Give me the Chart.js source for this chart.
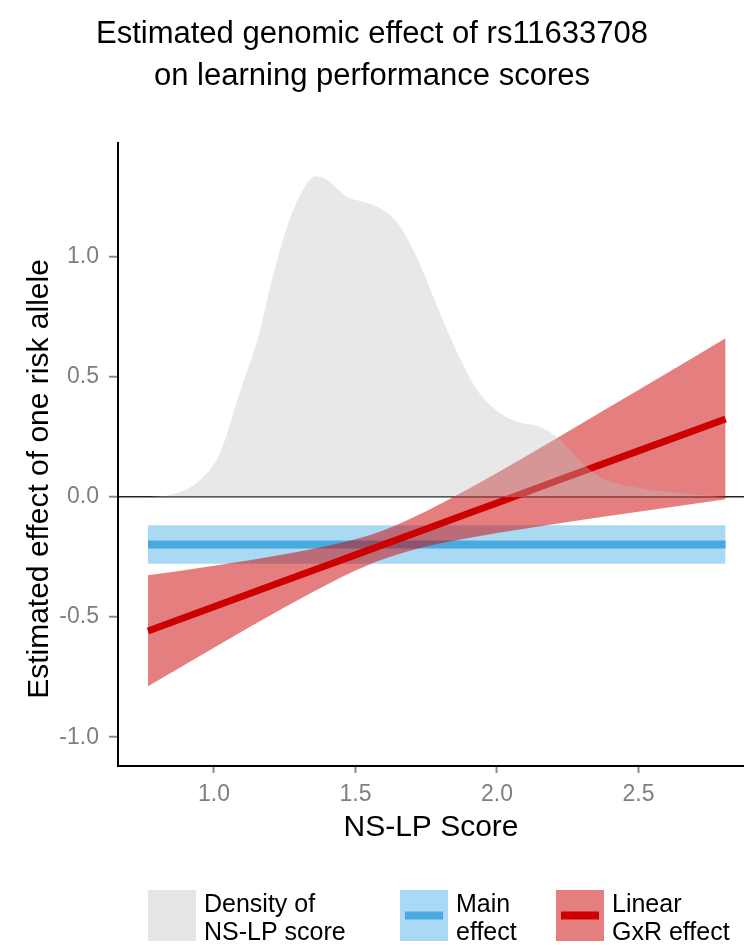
<!DOCTYPE html>
<html>
<head>
<meta charset="utf-8">
<title>rs11633708</title>
<script src="https://cdn.jsdelivr.net/npm/chart.js@4.4.1/dist/chart.umd.min.js"></script>
<style>
	html, body { margin: 0; padding: 0; background: #ffffff; }
	#wrap { width: 744px; height: 945px; }
</style>
</head>
<body>
<div id="wrap"><canvas id="gxrChart" width="744" height="945"></canvas></div>
<script>

// density of NS-LP score (grey area)
var densX = [0.77, 0.85, 0.95, 1.02, 1.09, 1.16, 1.20, 1.26, 1.32, 1.36, 1.40, 1.47, 1.54, 1.59, 1.65, 1.72, 1.79, 1.86, 1.93, 2.01, 2.08, 2.15, 2.22, 2.29, 2.36, 2.50, 2.64, 2.81];
var densY = [0.0, 0.01, 0.07, 0.18, 0.43, 0.68, 0.88, 1.13, 1.29, 1.335, 1.32, 1.25, 1.225, 1.20, 1.14, 0.99, 0.79, 0.60, 0.445, 0.35, 0.31, 0.293, 0.24, 0.155, 0.085, 0.037, 0.017, 0.0];

// main effect (blue)
var mainX  = [0.767, 2.808];
var mainFit = [-0.198, -0.198];
var mainHi = [-0.118, -0.118];
var mainLo = [-0.278, -0.278];

// linear GxR effect (red)
var gxrX   = [0.767, 1.0, 1.25, 1.4, 1.5, 1.6, 1.75, 1.9, 2.0, 2.25, 2.5, 2.808];
var gxrFit = [-0.558, -0.457, -0.349, -0.284, -0.241, -0.198, -0.133, -0.068, -0.025, 0.084, 0.192, 0.325];
var gxrHi  = [-0.326, -0.286, -0.238, -0.204, -0.176, -0.138, -0.059, 0.034, 0.100, 0.272, 0.445, 0.661];
var gxrLo  = [-0.788, -0.628, -0.459, -0.364, -0.306, -0.258, -0.206, -0.171, -0.150, -0.104, -0.061, -0.009];

var xTicks = [1.0, 1.5, 2.0, 2.5];
var yTicks = [-1.0, -0.5, 0.0, 0.5, 1.0];

var yTitle = "Estimated effect of one risk allele";

var legendItems = [
	{ lines: ["Density of", "NS-LP score"], fill: "#E5E5E5", stroke: null },
	{ lines: ["Main", "effect"], fill: "rgba(86, 180, 233, 0.5)", stroke: "#4AAADF" },
	{ lines: ["Linear", "GxR effect"], fill: "rgba(204, 0, 0, 0.5)", stroke: "#CC0000" }
];

var FONT = "'Liberation Sans', Arial, sans-serif";

function pts(xs, ys){
	return xs.map(function(x, i){ return { x: x, y: ys[i] }; });
}

// y title (rotated) and the legend under the plot, with two-line labels
var extraText = {
	id: 'extraText',
	afterDraw: function(chart){
		var ctx = chart.ctx;
		ctx.save();

		ctx.translate(40, 479);
		ctx.rotate(-Math.PI / 2);
		ctx.fillStyle = "#000000";
		ctx.font = "30px " + FONT;
		ctx.textAlign = "center";
		ctx.textBaseline = "middle";
		ctx.fillText(yTitle, 0, 0);
		ctx.setTransform(1, 0, 0, 1, 0, 0);

		var keyX = [148, 400, 556];
		var top = 890, w = 48, h = 51;
		legendItems.forEach(function(item, i){
			var x = keyX[i];
			ctx.fillStyle = item.fill;
			ctx.fillRect(x, top, w, h);
			if (item.stroke){
				ctx.fillStyle = item.stroke;
				ctx.fillRect(x + 5, top + h / 2 - 4, w - 10, 8);
			}
			ctx.fillStyle = "#000000";
			ctx.font = "25px " + FONT;
			ctx.textBaseline = "alphabetic";
			ctx.textAlign = "left";
			ctx.fillText(item.lines[0], x + 56, top + 22);
			ctx.fillText(item.lines[1], x + 56, top + 50);
		});
		ctx.restore();
	}
};

function init_chart_gxr(){

	if( typeof (Chart) === 'undefined'){ return; }

	var chart_settings = {
		type: 'line',
		data: {
			datasets: [
				{
					label: "Density of NS-LP score",
					data: pts(densX, densY),
					borderWidth: 0,
					pointRadius: 0,
					cubicInterpolationMode: 'monotone',
					backgroundColor: "rgba(190, 190, 190, 0.36)",
					fill: 'origin'
				},
				{
					label: "GxR fit",
					data: pts(gxrX, gxrFit),
					borderColor: "#CC0000",
					borderWidth: 7,
					pointRadius: 0,
					fill: false
				},
				{
					label: "GxR upper",
					data: pts(gxrX, gxrHi),
					borderWidth: 0,
					pointRadius: 0,
					cubicInterpolationMode: 'monotone',
					backgroundColor: "rgba(204, 0, 0, 0.5)",
					fill: 3
				},
				{
					label: "GxR lower",
					data: pts(gxrX, gxrLo),
					borderWidth: 0,
					pointRadius: 0,
					cubicInterpolationMode: 'monotone',
					fill: false
				},
				{
					label: "Main fit",
					data: pts(mainX, mainFit),
					borderColor: "#4AAADF",
					borderWidth: 8,
					pointRadius: 0,
					fill: false
				},
				{
					label: "Main upper",
					data: pts(mainX, mainHi),
					borderWidth: 0,
					pointRadius: 0,
					backgroundColor: "rgba(86, 180, 233, 0.5)",
					fill: 6
				},
				{
					label: "Main lower",
					data: pts(mainX, mainLo),
					borderWidth: 0,
					pointRadius: 0,
					fill: false
				}
			]
		},
		options: {
			responsive: false,
			animation: false,
			events: [],
			layout: { padding: { top: 0, right: 0, bottom: 99, left: 0 } },
			plugins: {
				legend: { display: false },
				tooltip: { enabled: false },
				title: {
					display: true,
					text: ["Estimated genomic effect of rs11633708", "on learning performance scores"],
					color: "#000000",
					font: { family: FONT, size: 31, weight: 'normal', lineHeight: 1.35 },
					padding: { top: 14, bottom: 45 }
				}
			},
			scales: {
				x: {
					type: 'linear',
					min: 0.661,
					max: 2.873,
					afterBuildTicks: function(scale){
						scale.ticks = xTicks.map(function(v){ return { value: v }; });
					},
					afterFit: function(scale){ scale.height = 80; },
					border: { display: true, color: "#000000", width: 2 },
					grid: {
						drawOnChartArea: false,
						drawTicks: true,
						tickLength: 7,
						tickColor: "#8C8C8C",
						tickWidth: 2
					},
					ticks: {
						color: "#7F7F7F",
						padding: 8,
						maxRotation: 0,
						font: { family: FONT, size: 23 },
						callback: function(v){ return Number(v).toFixed(1); }
					},
					title: {
						display: true,
						text: "NS-LP Score",
						color: "#000000",
						font: { family: FONT, size: 30 },
						padding: { top: 0, bottom: 0 }
					}
				},
				y: {
					type: 'linear',
					min: -1.12,
					max: 1.475,
					afterBuildTicks: function(scale){
						scale.ticks = yTicks.map(function(v){ return { value: v }; });
					},
					afterFit: function(scale){ scale.width = 118; },
					border: { display: true, color: "#000000", width: 2 },
					grid: {
						drawOnChartArea: true,
						drawTicks: true,
						tickLength: 9,
						tickColor: "#8C8C8C",
						tickWidth: 2,
						lineWidth: 1.5,
						color: function(c){
							return (c.tick && c.tick.value === 0) ? "#222222" : "rgba(0,0,0,0)";
						}
					},
					ticks: {
						color: "#7F7F7F",
						padding: 10,
						font: { family: FONT, size: 23 },
						callback: function(v){ return Number(v).toFixed(1); }
					},
					title: { display: false }
				}
			}
		},
		plugins: [extraText]
	};

	var chart_element = document.getElementById('gxrChart');
	var chart_gxr = new Chart(chart_element, chart_settings);
}

init_chart_gxr();

</script>
</body>
</html>
